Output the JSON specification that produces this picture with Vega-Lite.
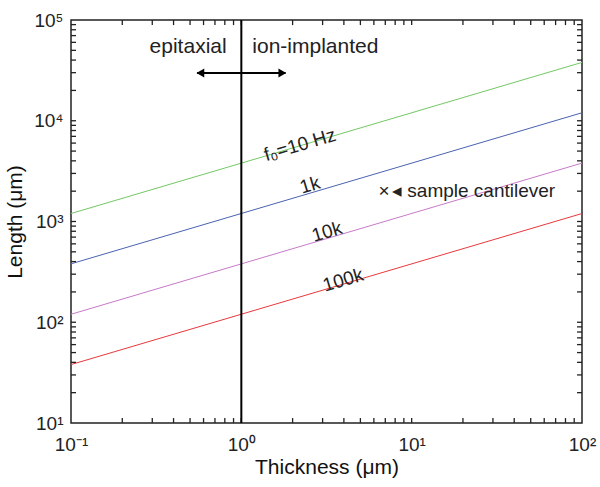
{
  "$schema": "https://vega.github.io/schema/vega-lite/v6.json",
  "width": 511,
  "height": 403,
  "autosize": {"type": "none"},
  "padding": {"left": 71, "top": 20, "right": 18, "bottom": 64},
  "config": {
    "font": "Liberation Sans",
    "view": {"stroke": "#222", "strokeWidth": 1.5}
  },
  "datasets": {
    "lines": [
      {"series": "10", "x": 0.1, "y": 1200},
      {"series": "10", "x": 100, "y": 37950},
      {"series": "1k", "x": 0.1, "y": 380},
      {"series": "1k", "x": 100, "y": 12000},
      {"series": "10k", "x": 0.1, "y": 120},
      {"series": "10k", "x": 100, "y": 3800},
      {"series": "100k", "x": 0.1, "y": 38},
      {"series": "100k", "x": 100, "y": 1200}
    ],
    "labels": [
      {"text": "f₀=10 Hz", "x": 2.21, "y": 5750},
      {"text": "1k", "x": 2.53, "y": 2300},
      {"text": "10k", "x": 3.18, "y": 787},
      {"text": "100k", "x": 3.96, "y": 262}
    ],
    "xticks": [
      {"v": 0.2}, {"v": 0.3}, {"v": 0.4}, {"v": 0.5}, {"v": 0.6}, {"v": 0.7}, {"v": 0.8}, {"v": 0.9}, {"v": 1},
      {"v": 2}, {"v": 3}, {"v": 4}, {"v": 5}, {"v": 6}, {"v": 7}, {"v": 8}, {"v": 9}, {"v": 10},
      {"v": 20}, {"v": 30}, {"v": 40}, {"v": 50}, {"v": 60}, {"v": 70}, {"v": 80}, {"v": 90}
    ],
    "yticks": [
      {"v": 20}, {"v": 30}, {"v": 40}, {"v": 50}, {"v": 60}, {"v": 70}, {"v": 80}, {"v": 90}, {"v": 100},
      {"v": 200}, {"v": 300}, {"v": 400}, {"v": 500}, {"v": 600}, {"v": 700}, {"v": 800}, {"v": 900}, {"v": 1000},
      {"v": 2000}, {"v": 3000}, {"v": 4000}, {"v": 5000}, {"v": 6000}, {"v": 7000}, {"v": 8000}, {"v": 9000}, {"v": 10000},
      {"v": 20000}, {"v": 30000}, {"v": 40000}, {"v": 50000}, {"v": 60000}, {"v": 70000}, {"v": 80000}, {"v": 90000}
    ]
  },
  "layer": [
    {
      "data": {"name": "lines"},
      "mark": {"type": "line", "strokeWidth": 1},
      "encoding": {
        "x": {
          "field": "x", "type": "quantitative",
          "scale": {"type": "log", "domain": [0.1, 100], "nice": false},
          "axis": {
            "orient": "bottom",
            "title": "Thickness (μm)",
            "titleFont": "Liberation Sans",
            "titleFontSize": 21,
            "titleFontWeight": "normal",
            "titleColor": "#111",
            "titlePadding": 2,
            "domain": false,
            "grid": false,
            "ticks": false,
            "labelPadding": 12,
            "labelFont": "Liberation Sans",
            "labelFontSize": 19,
            "labelColor": "#222",
            "values": [0.1, 1, 10, 100],
            "labelExpr": "datum.value==0.1?'10⁻¹':datum.value==1?'10⁰':datum.value==10?'10¹':datum.value==100?'10²':''",
            "labelFlush": false,
            "labelOverlap": false
          }
        },
        "y": {
          "field": "y", "type": "quantitative",
          "scale": {"type": "log", "domain": [10, 100000], "nice": false},
          "axis": {
            "orient": "left",
            "title": "Length (μm)",
            "titleFont": "Liberation Sans",
            "titleFontSize": 21,
            "titleFontWeight": "normal",
            "titleColor": "#111",
            "titlePadding": 8,
            "domain": false,
            "grid": false,
            "ticks": false,
            "labelPadding": 8,
            "labelFont": "Liberation Sans",
            "labelFontSize": 19,
            "labelColor": "#222",
            "values": [10, 100, 1000, 10000, 100000],
            "labelExpr": "datum.value==10?'10¹':datum.value==100?'10²':datum.value==1000?'10³':datum.value==10000?'10⁴':datum.value==100000?'10⁵':''",
            "labelFlush": false,
            "labelOverlap": false
          }
        },
        "color": {
          "field": "series", "type": "nominal",
          "scale": {"domain": ["10", "1k", "10k", "100k"], "range": ["#74c865", "#4a62b0", "#c77ac8", "#e8393c"]},
          "legend": null
        }
      }
    },
    {
      "data": {"name": "xticks"},
      "mark": {"type": "rule", "color": "#222", "strokeWidth": 1.3},
      "encoding": {
        "x": {"field": "v", "type": "quantitative"},
        "y": {"datum": 10, "type": "quantitative"},
        "y2": {"datum": 11.2}
      }
    },
    {
      "data": {"name": "xticks"},
      "mark": {"type": "rule", "color": "#222", "strokeWidth": 1.3},
      "encoding": {
        "x": {"field": "v", "type": "quantitative"},
        "y": {"datum": 100000, "type": "quantitative"},
        "y2": {"datum": 89000}
      }
    },
    {
      "data": {"name": "yticks"},
      "mark": {"type": "rule", "color": "#222", "strokeWidth": 1.3},
      "encoding": {
        "y": {"field": "v", "type": "quantitative"},
        "x": {"datum": 0.1, "type": "quantitative"},
        "x2": {"datum": 0.107}
      }
    },
    {
      "data": {"name": "yticks"},
      "mark": {"type": "rule", "color": "#222", "strokeWidth": 1.3},
      "encoding": {
        "y": {"field": "v", "type": "quantitative"},
        "x": {"datum": 100, "type": "quantitative"},
        "x2": {"datum": 93.5}
      }
    },
    {
      "data": {"values": [{"x": 1}]},
      "mark": {"type": "rule", "color": "#000", "strokeWidth": 2},
      "encoding": {
        "x": {"field": "x", "type": "quantitative"}
      }
    },
    {
      "data": {"values": [{"x": 0.55, "x2": 1.82, "y": 29800}]},
      "mark": {"type": "rule", "color": "#000", "strokeWidth": 2},
      "encoding": {
        "x": {"field": "x", "type": "quantitative"},
        "x2": {"field": "x2"},
        "y": {"field": "y", "type": "quantitative"}
      }
    },
    {
      "data": {"values": [{"x": 0.575, "y": 29800, "dir": "l"}, {"x": 1.74, "y": 29800, "dir": "r"}]},
      "mark": {"type": "point", "filled": true, "color": "#000", "opacity": 1, "size": 80},
      "encoding": {
        "x": {"field": "x", "type": "quantitative"},
        "y": {"field": "y", "type": "quantitative"},
        "shape": {"field": "dir", "type": "nominal", "scale": {"domain": ["l", "r"], "range": ["triangle-left", "triangle-right"]}, "legend": null}
      }
    },
    {
      "data": {"values": [{"text": "epitaxial", "x": 0.82, "y": 54000}]},
      "mark": {"type": "text", "align": "right", "baseline": "middle", "fontSize": 21, "color": "#222"},
      "encoding": {
        "x": {"field": "x", "type": "quantitative"},
        "y": {"field": "y", "type": "quantitative"},
        "text": {"field": "text"}
      }
    },
    {
      "data": {"values": [{"text": "ion-implanted", "x": 1.16, "y": 54000}]},
      "mark": {"type": "text", "align": "left", "baseline": "middle", "fontSize": 21, "color": "#222"},
      "encoding": {
        "x": {"field": "x", "type": "quantitative"},
        "y": {"field": "y", "type": "quantitative"},
        "text": {"field": "text"}
      }
    },
    {
      "data": {"name": "labels"},
      "mark": {"type": "text", "align": "center", "baseline": "middle", "fontSize": 19, "angle": -16.4, "color": "#222"},
      "encoding": {
        "x": {"field": "x", "type": "quantitative"},
        "y": {"field": "y", "type": "quantitative"},
        "text": {"field": "text"}
      }
    },
    {
      "data": {"values": [{"text": "×", "x": 6.89, "y": 2010}]},
      "mark": {"type": "text", "align": "center", "baseline": "middle", "fontSize": 19, "color": "#222"},
      "encoding": {
        "x": {"field": "x", "type": "quantitative"},
        "y": {"field": "y", "type": "quantitative"},
        "text": {"field": "text"}
      }
    },
    {
      "data": {"values": [{"text": "◂ sample cantilever", "x": 7.67, "y": 2010}]},
      "mark": {"type": "text", "align": "left", "baseline": "middle", "fontSize": 19, "color": "#222"},
      "encoding": {
        "x": {"field": "x", "type": "quantitative"},
        "y": {"field": "y", "type": "quantitative"},
        "text": {"field": "text"}
      }
    }
  ]
}
